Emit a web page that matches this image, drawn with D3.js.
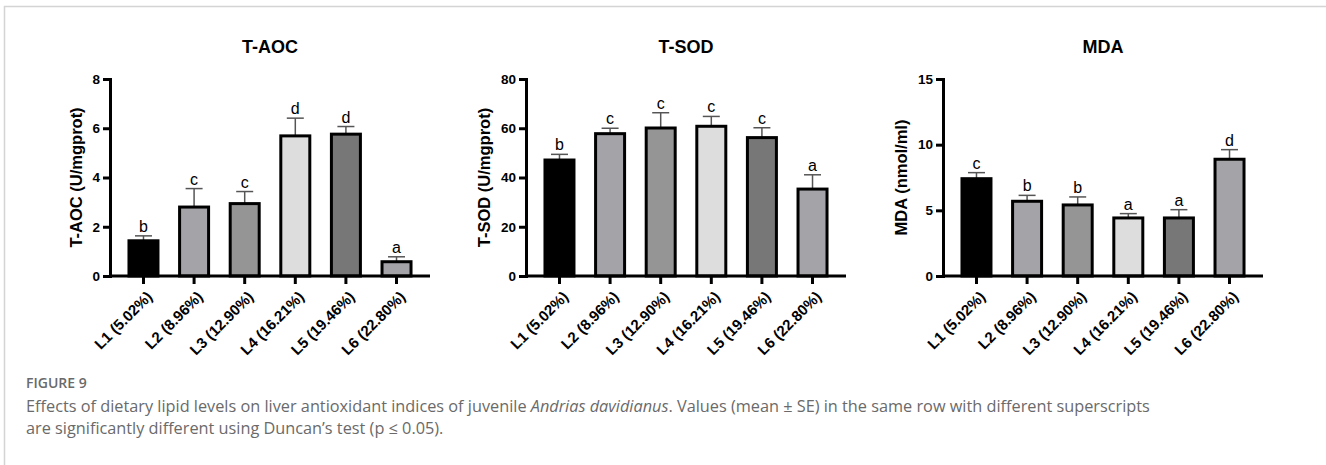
<!DOCTYPE html>
<html>
<head>
<meta charset="utf-8">
<script src="https://cdn.jsdelivr.net/npm/d3@7"></script>
<style>
  body { margin: 0; background: #fff; }
  svg { display: block; }
</style>
</head>
<body>
<svg id="fig" width="1326" height="465"></svg>
<script>
// group labels (x axis)
var categories = ["L1 (5.02%)", "L2 (8.96%)", "L3 (12.90%)", "L4 (16.21%)", "L5 (19.46%)", "L6 (22.80%)"]

// T-AOC (U/mgprot)
var taocMean = [1.43, 2.80, 2.94, 5.69, 5.76, 0.58]
var taocSE = [0.20, 0.75, 0.49, 0.72, 0.31, 0.20]
var taocLetters = ["b", "c", "c", "d", "d", "a"]

// T-SOD (U/mgprot)
var sodMean = [47.1, 57.8, 60.1, 60.8, 56.2, 35.3]
var sodSE = [2.3, 2.2, 6.2, 4.0, 4.0, 5.8]
var sodLetters = ["b", "c", "c", "c", "c", "a"]

// MDA (nmol/ml)
var mdaMean = [7.41, 5.69, 5.41, 4.42, 4.42, 8.89]
var mdaSE = [0.46, 0.45, 0.61, 0.33, 0.63, 0.73]
var mdaLetters = ["c", "b", "b", "a", "a", "d"]

var barFills = ["#000000", "#a3a3a8", "#959595", "#dddddd", "#777777", "#a3a3a8"]

var FONT = "Liberation Sans, Arial, sans-serif"
var PLOT_TOP = 79
var PLOT_BOTTOM = 276
var PLOT_WIDTH = 320

var panels = [
  { title: "T-AOC", yLabel: "T-AOC (U/mgprot)", x0: 110, max: 8, step: 2,
    mean: taocMean, se: taocSE, letters: taocLetters, labelOffset: 34 },
  { title: "T-SOD", yLabel: "T-SOD (U/mgprot)", x0: 526, max: 80, step: 20,
    mean: sodMean, se: sodSE, letters: sodLetters, labelOffset: 42 },
  { title: "MDA", yLabel: "MDA (nmol/ml)", x0: 943, max: 15, step: 5,
    mean: mdaMean, se: mdaSE, letters: mdaLetters, labelOffset: 42 }
]

var svg = d3.select("#fig")

// light frame around the figure
svg.append("path")
  .attr("d", "M4.5,465 L4.5,6.5 L1326,6.5")
  .attr("fill", "none")
  .attr("stroke", "#d4d4d4")
  .attr("stroke-width", 1.5)

function drawPanel(p) {
  var g = svg.append("g")

  var x = d3.scaleBand()
    .domain(categories)
    .range([p.x0, p.x0 + PLOT_WIDTH])
    .paddingInner(0.427)
    .paddingOuter(0.375)

  var y = d3.scaleLinear()
    .domain([0, p.max])
    .range([PLOT_BOTTOM, PLOT_TOP])

  var rows = categories.map(function(c, i) {
    return { cat: c, mean: p.mean[i], se: p.se[i], letter: p.letters[i], fill: barFills[i] }
  })

  function cx(d) { return x(d.cat) + x.bandwidth() / 2 }

  // error bars (upper only) drawn first, bars sit on top
  var err = g.selectAll(".err").data(rows).enter().append("g")
  err.append("line")
    .attr("x1", cx).attr("x2", cx)
    .attr("y1", function(d) { return y(d.mean) })
    .attr("y2", function(d) { return y(d.mean + d.se) })
    .attr("stroke", "#555")
    .attr("stroke-width", 1.5)
  err.append("line")
    .attr("x1", function(d) { return cx(d) - 8.5 })
    .attr("x2", function(d) { return cx(d) + 8.5 })
    .attr("y1", function(d) { return y(d.mean + d.se) })
    .attr("y2", function(d) { return y(d.mean + d.se) })
    .attr("stroke", "#555")
    .attr("stroke-width", 1.5)

  g.selectAll(".bar").data(rows).enter().append("rect")
    .attr("class", "bar")
    .attr("x", function(d) { return x(d.cat) })
    .attr("width", x.bandwidth())
    .attr("y", function(d) { return y(d.mean) })
    .attr("height", function(d) { return PLOT_BOTTOM - y(d.mean) })
    .attr("fill", function(d) { return d.fill })
    .attr("stroke", "#000")
    .attr("stroke-width", 3)

  // significance letters
  g.selectAll(".letter").data(rows).enter().append("text")
    .attr("x", cx)
    .attr("y", function(d) { return y(d.mean + d.se) - 4 })
    .attr("text-anchor", "middle")
    .attr("font-family", FONT)
    .attr("font-size", 16)
    .attr("fill", "#000")
    .text(function(d) { return d.letter })

  // y axis
  var yAxis = g.append("g")
    .attr("transform", "translate(" + p.x0 + ",0)")
    .call(d3.axisLeft(y).tickValues(d3.range(0, p.max + 0.001, p.step))
      .tickSize(7).tickSizeOuter(0).tickPadding(3))
  yAxis.select(".domain").attr("stroke-width", 3).attr("stroke-linecap", "square")
  yAxis.selectAll(".tick line").attr("stroke-width", 3)
  yAxis.selectAll(".tick text")
    .attr("font-family", FONT)
    .attr("font-weight", "bold")
    .attr("font-size", 13.5)
    .attr("fill", "#000")

  // x axis
  var xAxis = g.append("g")
    .attr("transform", "translate(0," + PLOT_BOTTOM + ")")
    .call(d3.axisBottom(x).tickSize(8).tickSizeOuter(0))
  xAxis.select(".domain")
    .attr("d", "M" + p.x0 + ",0H" + (p.x0 + PLOT_WIDTH))
    .attr("stroke-width", 3)
  xAxis.selectAll(".tick line").attr("stroke-width", 3)
  xAxis.selectAll(".tick text")
    .attr("x", 0).attr("y", 0).attr("dy", "0.35em")
    .attr("text-anchor", "end")
    .attr("font-family", FONT)
    .attr("font-weight", "bold")
    .attr("font-size", 15)
    .attr("fill", "#000")
    .attr("transform", "translate(6,18) rotate(-45)")

  // titles
  g.append("text")
    .attr("x", p.x0 + PLOT_WIDTH / 2)
    .attr("y", 53)
    .attr("text-anchor", "middle")
    .attr("font-family", FONT)
    .attr("font-weight", "bold")
    .attr("font-size", 18)
    .text(p.title)

  g.append("text")
    .attr("transform", "translate(" + (p.x0 - p.labelOffset) + "," + ((PLOT_TOP + PLOT_BOTTOM) / 2) + ") rotate(-90)")
    .attr("dy", "0.35em")
    .attr("text-anchor", "middle")
    .attr("font-family", FONT)
    .attr("font-weight", "bold")
    .attr("font-size", 16.5)
    .text(p.yLabel)
}

panels.forEach(drawPanel)

// caption
var cap = svg.append("g")
  .attr("font-family", "Open Sans, Lato, sans-serif")
  .attr("fill", "#6a6a6a")

cap.append("text")
  .attr("x", 26).attr("y", 388)
  .attr("font-size", 14)
  .attr("font-weight", 600)
  .text("FIGURE 9")

var line1 = cap.append("text")
  .attr("x", 26).attr("y", 412)
  .attr("font-size", 16.3)
line1.append("tspan").text("Effects of dietary lipid levels on liver antioxidant indices of juvenile ")
line1.append("tspan").attr("font-style", "italic").text("Andrias davidianus")
line1.append("tspan").text(". Values (mean \u00b1 SE) in the same row with different superscripts")

cap.append("text")
  .attr("x", 26).attr("y", 434)
  .attr("font-size", 16.3)
  .text("are significantly different using Duncan\u2019s test (p \u2264 0.05).")
</script>
</body>
</html>
